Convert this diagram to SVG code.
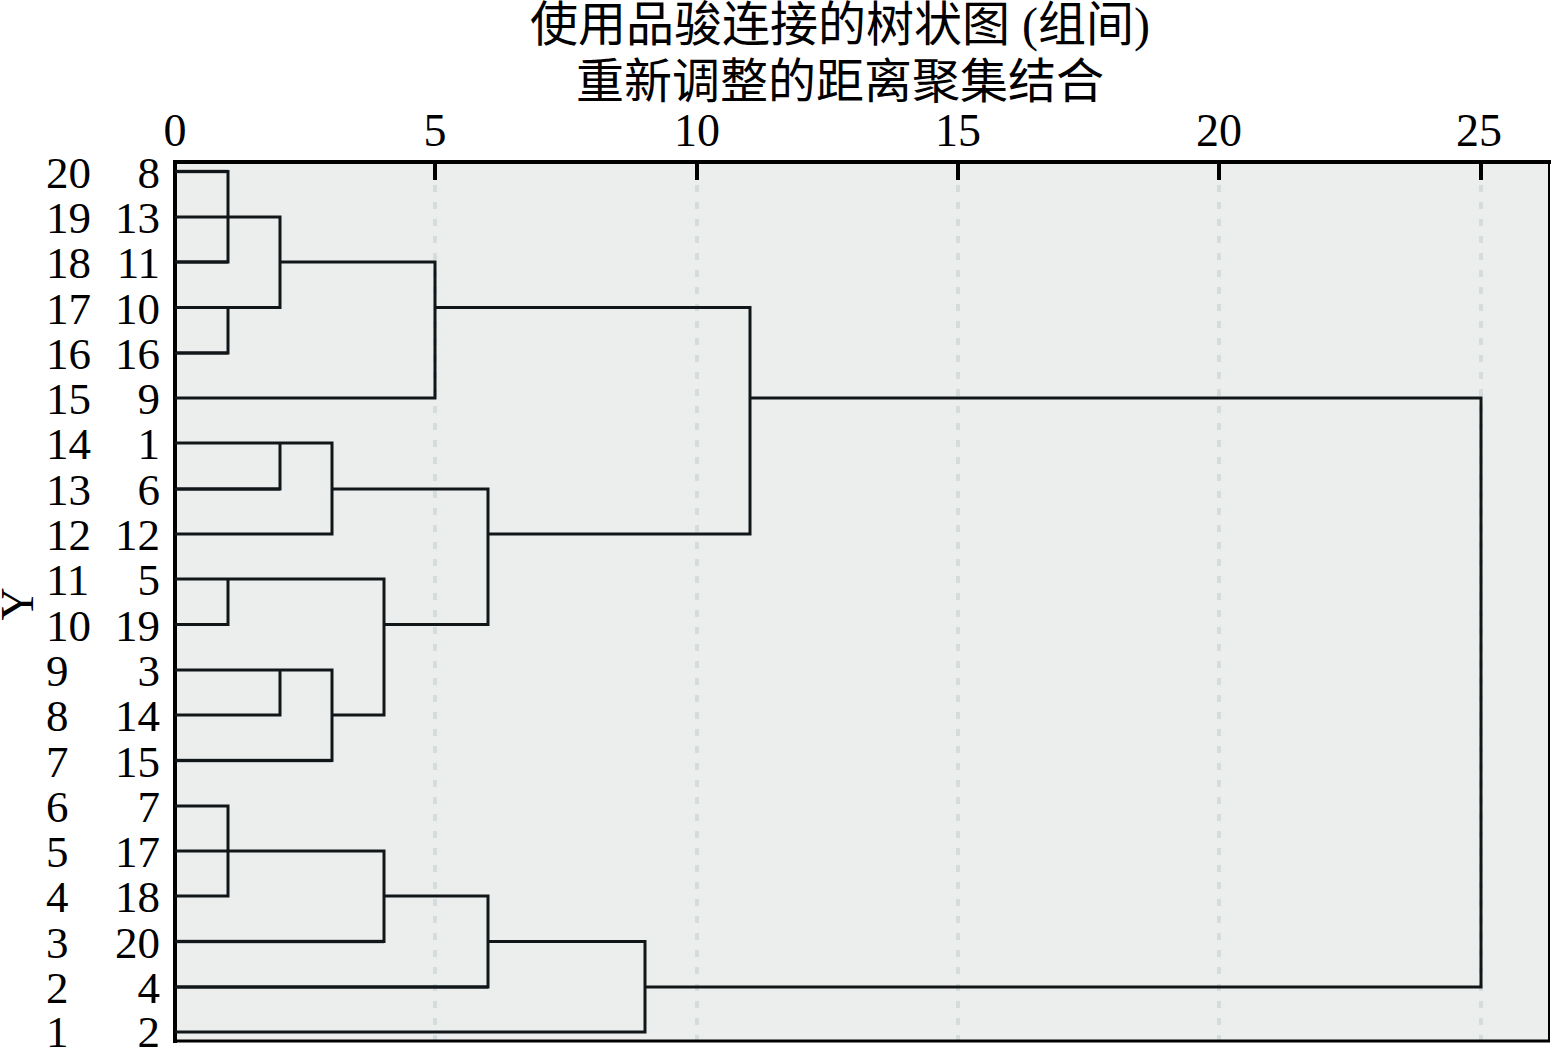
<svg xmlns="http://www.w3.org/2000/svg" width="1552" height="1051" viewBox="0 0 1552 1051">
<style>
.t{font-family:"Liberation Serif","Noto Sans CJK SC",serif;fill:#000}
.title{font-size:48px;text-anchor:middle}
.tick{font-size:46px;text-anchor:middle}
.ll{font-size:45px;text-anchor:start}
.lr{font-size:45px;text-anchor:end}
.grid{stroke:#d5dcdc;stroke-width:4;stroke-dasharray:7 10;fill:none}
.tk{stroke:#000;stroke-width:4}
.c{fill:none;stroke:#111618;stroke-width:3;stroke-linejoin:miter}
.g{fill:none;stroke:#555e62;stroke-width:3.4}
</style>
<rect x="0" y="0" width="1552" height="1051" fill="#ffffff"/>
<g id="plot-area">
<rect x="175" y="162" width="1375" height="879" fill="#eceeed"/>
<line class="grid" x1="435" y1="185" x2="435" y2="1040"/>
<line class="grid" x1="697" y1="185" x2="697" y2="1040"/>
<line class="grid" x1="958" y1="185" x2="958" y2="1040"/>
<line class="grid" x1="1219" y1="185" x2="1219" y2="1040"/>
<line class="grid" x1="1481" y1="185" x2="1481" y2="1040"/>
<line class="tk" x1="435" y1="162" x2="435" y2="180"/>
<line class="tk" x1="697" y1="162" x2="697" y2="180"/>
<line class="tk" x1="958" y1="162" x2="958" y2="180"/>
<line class="tk" x1="1219" y1="162" x2="1219" y2="180"/>
<line class="tk" x1="1481" y1="162" x2="1481" y2="180"/>
<line x1="1549" y1="162" x2="1549" y2="1041" stroke="#000" stroke-width="2"/>
<line x1="173" y1="1041" x2="1550" y2="1041" stroke="#000" stroke-width="3"/>
<line x1="173" y1="162" x2="1551" y2="162" stroke="#000" stroke-width="4"/>
<line x1="175" y1="160" x2="175" y2="1043" stroke="#000" stroke-width="4"/>
</g>
<g id="title">
<text class="t title" x="840" y="41">使用品骏连接的树状图 (组间)</text>
<text class="t title" x="840" y="98">重新调整的距离聚集结合</text>
</g>
<g id="x-axis-labels">
<text class="t tick" x="175" y="146">0</text>
<text class="t tick" x="435" y="146">5</text>
<text class="t tick" x="697" y="146">10</text>
<text class="t tick" x="958" y="146">15</text>
<text class="t tick" x="1219" y="146">20</text>
<text class="t tick" x="1479" y="146">25</text>
</g>
<g id="y-axis-label">
<text class="t tick" transform="translate(33,604) rotate(-90)">Y</text>
</g>
<g id="row-labels">
<text class="t ll" x="46" y="188">20</text><text class="t lr" x="160" y="188">8</text>
<text class="t ll" x="46" y="233">19</text><text class="t lr" x="160" y="233">13</text>
<text class="t ll" x="46" y="278">18</text><text class="t lr" x="160" y="278">11</text>
<text class="t ll" x="46" y="324">17</text><text class="t lr" x="160" y="324">10</text>
<text class="t ll" x="46" y="369">16</text><text class="t lr" x="160" y="369">16</text>
<text class="t ll" x="46" y="414">15</text><text class="t lr" x="160" y="414">9</text>
<text class="t ll" x="46" y="459">14</text><text class="t lr" x="160" y="459">1</text>
<text class="t ll" x="46" y="505">13</text><text class="t lr" x="160" y="505">6</text>
<text class="t ll" x="46" y="550">12</text><text class="t lr" x="160" y="550">12</text>
<text class="t ll" x="46" y="595">11</text><text class="t lr" x="160" y="595">5</text>
<text class="t ll" x="46" y="641">10</text><text class="t lr" x="160" y="641">19</text>
<text class="t ll" x="46" y="686">9</text><text class="t lr" x="160" y="686">3</text>
<text class="t ll" x="46" y="731">8</text><text class="t lr" x="160" y="731">14</text>
<text class="t ll" x="46" y="777">7</text><text class="t lr" x="160" y="777">15</text>
<text class="t ll" x="46" y="822">6</text><text class="t lr" x="160" y="822">7</text>
<text class="t ll" x="46" y="867">5</text><text class="t lr" x="160" y="867">17</text>
<text class="t ll" x="46" y="912">4</text><text class="t lr" x="160" y="912">18</text>
<text class="t ll" x="46" y="958">3</text><text class="t lr" x="160" y="958">20</text>
<text class="t ll" x="46" y="1003">2</text><text class="t lr" x="160" y="1003">4</text>
<text class="t ll" x="46" y="1047">1</text><text class="t lr" x="160" y="1047">2</text>
</g>
<g id="connectors">
<path class="g" d="M177 171.5H228M177 262H228M177 353H228M177 489H280M177 760.5H332M177 941.5H384M177 987H488"/>
<path class="c" d="M175 171.5H228V262H175"/>
<path class="c" d="M175 217H280V307.5H175"/>
<path class="c" d="M175 353H228V307.5"/>
<path class="c" d="M280 262H435V398H175"/>
<path class="c" d="M435 307.5H750V534H488"/>
<path class="c" d="M750 398H1481V987H645"/>
<path class="c" d="M175 443H332V534H175"/>
<path class="c" d="M280 443V489H175"/>
<path class="c" d="M332 489H488V624.5H384"/>
<path class="c" d="M175 579H384V715H332"/>
<path class="c" d="M228 579V624.5H175"/>
<path class="c" d="M175 670H332V760.5H175"/>
<path class="c" d="M280 670V715H175"/>
<path class="c" d="M175 806H228V896H175"/>
<path class="c" d="M175 851H384V941.5H175"/>
<path class="c" d="M384 896H488V987H175"/>
<path class="c" d="M488 941.5H645V1032H175"/>
</g>
</svg>
